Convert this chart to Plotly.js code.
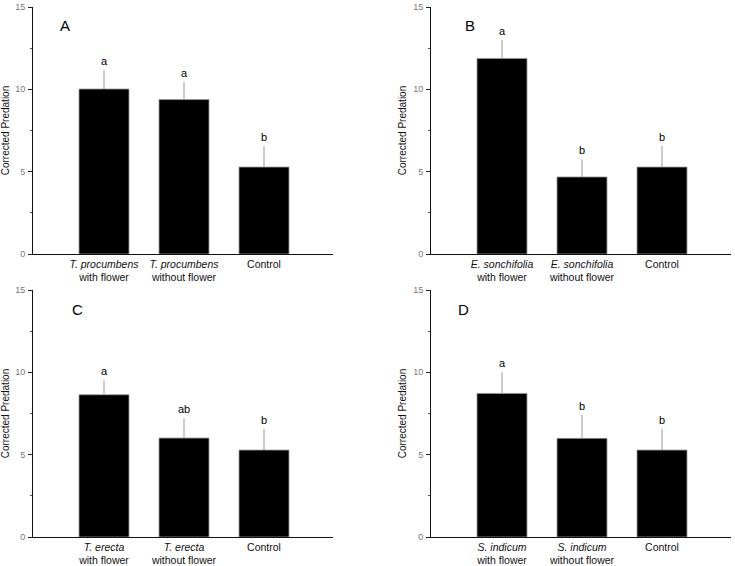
<!DOCTYPE html>
<html><head><meta charset="utf-8">
<script src="https://cdn.plot.ly/plotly-3.0.1.min.js"></script>
<style>body{margin:0;background:#fff}#chart{width:735px;height:566px}</style>
</head><body><div id="chart"></div>
<script>
const panelLetters = ["A","B","C","D"];
const speciesNames = ["T. procumbens","E. sonchifolia","T. erecta","S. indicum"];
const categoryPositions = [1,2,3];
const meansA = [10.02, 9.38, 5.28];
const errorsA = [1.13, 1.06, 1.28];
const lettersA = ["a","a","b"];
const meansB = [11.88, 4.68, 5.28];
const errorsB = [1.12, 1.07, 1.28];
const lettersB = ["a","b","b"];
const meansC = [8.64, 6.01, 5.28];
const errorsC = [0.87, 1.19, 1.28];
const lettersC = ["a","ab","b"];
const meansD = [8.72, 5.99, 5.28];
const errorsD = [1.28, 1.44, 1.28];
const lettersD = ["a","b","b"];
const yTickVals = [0,5,10,15];
const yTitle = "Corrected Predation";

const W = 735, H = 566;
const boxes = [ // pixel boxes: left, right, top, bottom
  [33,333,7,254],[431,731,7,254],[33,333,290,537],[431,731,290,537]
];
const means = [meansA, meansB, meansC, meansD];
const errs = [errorsA, errorsB, errorsC, errorsD];
const sig = [lettersA, lettersB, lettersC, lettersD];

const data = [];
const layout = {
  width: W, height: H, margin:{l:0,r:0,t:0,b:0},
  paper_bgcolor:'#fff', plot_bgcolor:'#fff', showlegend:false,
  font:{family:'Liberation Sans, Arial, sans-serif', color:'#111'},
  annotations: []
};
for (let i=0;i<4;i++){
  const s = i===0?'':String(i+1);
  const [l,r,t,b] = boxes[i];
  data.push({
    type:'bar', x:categoryPositions, y:means[i], width:0.625,
    xaxis:'x'+s, yaxis:'y'+s,
    marker:{color:'#000', line:{color:'#9a9a9a', width:0.8}},
    error_y:{type:'data', array:errs[i], arrayminus:[0,0,0], symmetric:false, color:'#999', thickness:1, width:0},
    hoverinfo:'none'
  });
  const ticktext = [
    '<i>'+speciesNames[i]+'</i><br>with flower',
    '<i>'+speciesNames[i]+'</i><br>without flower',
    'Control'
  ];
  layout['xaxis'+s] = {
    domain:[l/W, r/W], anchor:'y'+s, range:[0.1125, 3.8625],
    tickvals:categoryPositions, ticktext:ticktext, ticks:'',
    showline:true, linecolor:'#111', linewidth:1, showgrid:false, zeroline:false,
    tickfont:{size:10.5, color:'#111'}, fixedrange:true
  };
  layout['yaxis'+s] = {
    domain:[1-b/H, 1-t/H], anchor:'x'+s, range:[0,15],
    tickvals:yTickVals, ticks:'outside', ticklen:4, tickcolor:'#222', tickwidth:1,
    minor:{dtick:2.5, tick0:0, ticks:'outside', ticklen:2, tickcolor:'#555', showgrid:false},
    showline:true, linecolor:'#111', linewidth:1, showgrid:false, zeroline:false,
    tickfont:{size:9, color:'#777'}, ticklabelstandoff:1,
    title:{text:yTitle, font:{size:10, color:'#111'}, standoff:4}, fixedrange:true
  };
  for (let j=0;j<3;j++){
    layout.annotations.push({
      xref:'x'+s, yref:'y'+s, x:categoryPositions[j], y:means[i][j]+errs[i][j],
      text:sig[i][j], showarrow:false, yanchor:'bottom', yshift:1,
      font:{size:11, color:'#000'}
    });
  }
}
const letterPos = [[65,26],[470,26],[77,309],[463,309]];
for (let i=0;i<4;i++){
  layout.annotations.push({
    xref:'paper', yref:'paper', x:letterPos[i][0]/W, y:1-letterPos[i][1]/H,
    text:panelLetters[i], showarrow:false, xanchor:'center', yanchor:'middle',
    font:{size:15, color:'#000'}
  });
}
Plotly.newPlot('chart', data, layout, {displayModeBar:false, staticPlot:true});
</script></body></html>
